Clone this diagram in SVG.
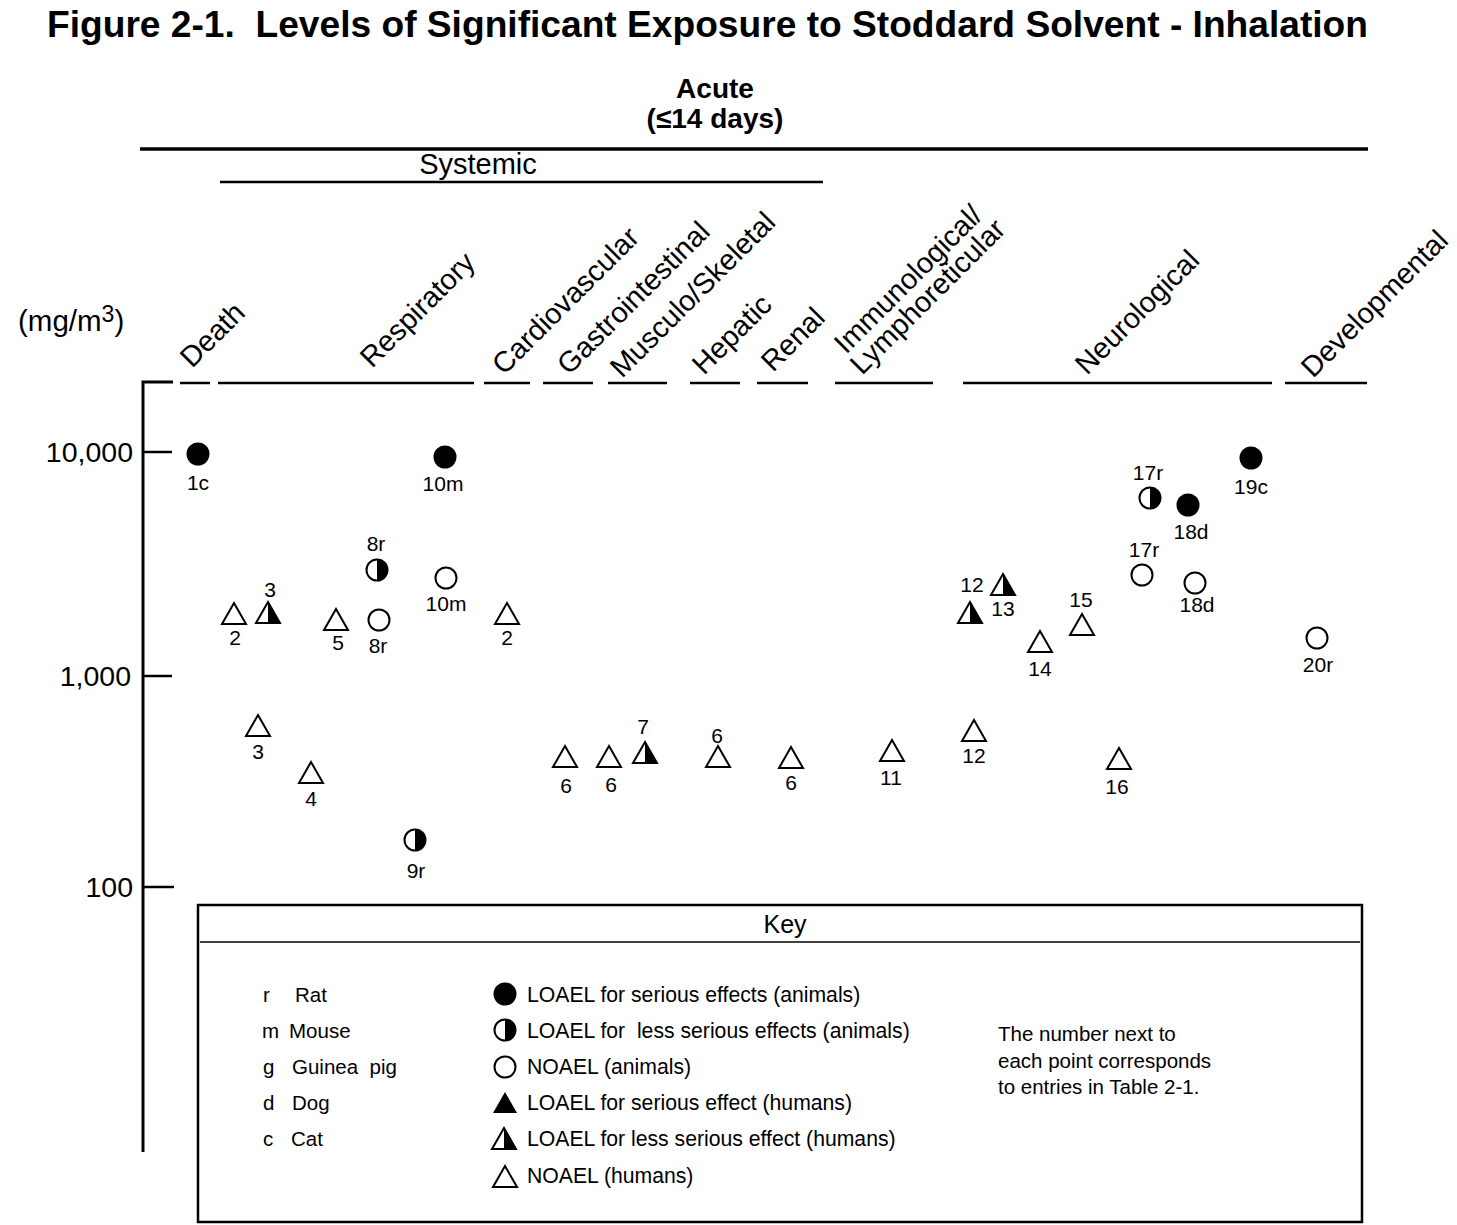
<svg xmlns="http://www.w3.org/2000/svg" xmlns:xlink="http://www.w3.org/1999/xlink" width="1457" height="1225" viewBox="0 0 1457 1225">
<style>
text{font-family:"Liberation Sans",Arial,sans-serif;fill:#000}
.title{font-size:37px;font-weight:bold}
.hdr{font-size:28px;font-weight:bold}
.sys{font-size:29px}
.cat{font-size:29px}
.tick{font-size:28.5px;text-anchor:end}
.lbl{font-size:21px;text-anchor:middle}
.key{font-size:21.2px}
.keys{font-size:20.5px}
.ln{stroke:#000;fill:none}
</style>
<defs>
<g id="fc"><circle r="11.5" fill="#000"/></g>
<g id="hc"><circle r="10.5" fill="#fff" stroke="#000" stroke-width="2"/><path d="M0,-10.5 A10.5,10.5 0 0 1 0,10.5 Z" fill="#000"/></g>
<g id="oc"><circle r="10.5" fill="none" stroke="#000" stroke-width="2"/></g>
<g id="ft"><path d="M0,-11 L12,10 L-12,10 Z" fill="#000"/></g>
<g id="ht"><path d="M0,-11 L12,10 L-12,10 Z" fill="#fff" stroke="#000" stroke-width="2"/><path d="M0,-11 L12,10 L0,10 Z" fill="#000"/></g>
<g id="ot"><path d="M0,-11 L12,10 L-12,10 Z" fill="none" stroke="#000" stroke-width="2"/></g>
</defs>
<rect width="1457" height="1225" fill="#fff"/>

<g id="header">
<text class="title" x="47" y="37" textLength="1321" lengthAdjust="spacingAndGlyphs" xml:space="preserve">Figure 2-1.  Levels of Significant Exposure to Stoddard Solvent - Inhalation</text>
<text class="hdr" x="715" y="98" text-anchor="middle">Acute</text>
<text class="hdr" x="715" y="128" text-anchor="middle">(≤14 days)</text>
<line class="ln" x1="140" y1="149" x2="1368" y2="149" stroke-width="3.5"/>
<text class="sys" x="478" y="174" text-anchor="middle">Systemic</text>
<line class="ln" x1="220" y1="182" x2="823" y2="182" stroke-width="2.5"/>
</g>

<g id="categories">
<text class="cat" transform="translate(192,369) rotate(-45)">Death</text>
<text class="cat" transform="translate(372,369) rotate(-45)">Respiratory</text>
<text class="cat" transform="translate(504,376) rotate(-45)">Cardiovascular</text>
<text class="cat" transform="translate(569,376) rotate(-45)">Gastrointestinal</text>
<text class="cat" transform="translate(622,379) rotate(-45)">Musculo/Skeletal</text>
<text class="cat" transform="translate(704,376) rotate(-45)">Hepatic</text>
<text class="cat" transform="translate(773,373) rotate(-45)">Renal</text>
<text class="cat" transform="translate(846,355) rotate(-45)">Immunological/</text>
<text class="cat" transform="translate(862,376) rotate(-45)">Lymphoreticular</text>
<text class="cat" transform="translate(1087,376) rotate(-45)">Neurological</text>
<text class="cat" transform="translate(1313,379) rotate(-45)">Developmental</text>
<g class="ln" stroke-width="2.5">
<line x1="180" y1="383" x2="210" y2="383"/>
<line x1="218" y1="383" x2="474" y2="383"/>
<line x1="484" y1="383" x2="530" y2="383"/>
<line x1="543" y1="383" x2="593" y2="383"/>
<line x1="608" y1="383" x2="667" y2="383"/>
<line x1="690" y1="383" x2="740" y2="383"/>
<line x1="757" y1="383" x2="808" y2="383"/>
<line x1="835" y1="383" x2="933" y2="383"/>
<line x1="963" y1="383" x2="1272" y2="383"/>
<line x1="1285" y1="383" x2="1367" y2="383"/>
</g>
</g>

<g id="axis">
<text x="18" y="331" font-size="29.5">(mg/m<tspan font-size="23" dy="-9">3</tspan><tspan dy="9">)</tspan></text>
<path class="ln" d="M173,382 H143 V1152" stroke-width="3"/>
<g class="ln" stroke-width="2.5">
<line x1="143" y1="452" x2="172" y2="452"/>
<line x1="143" y1="676" x2="172" y2="676"/>
<line x1="143" y1="887" x2="174" y2="887"/>
</g>
<text class="tick" x="133" y="462">10,000</text>
<text class="tick" x="131" y="686">1,000</text>
<text class="tick" x="133" y="897">100</text>
</g>

<g id="points">
<g id="p1c"><use xlink:href="#fc" x="198" y="454"/><text class="lbl" x="198" y="490">1c</text></g>
<g id="p10m-a"><use xlink:href="#fc" x="445" y="457"/><text class="lbl" x="443" y="491">10m</text></g>
<g id="p8r-a"><use xlink:href="#hc" x="377" y="570"/><text class="lbl" x="376" y="551">8r</text></g>
<g id="p3-a"><use xlink:href="#ht" x="268" y="613"/><text class="lbl" x="270" y="597">3</text></g>
<g id="p2-a"><use xlink:href="#ot" x="234" y="614"/><text class="lbl" x="235" y="645">2</text></g>
<g id="p5"><use xlink:href="#ot" x="336" y="620"/><text class="lbl" x="338" y="650">5</text></g>
<g id="p8r-b"><use xlink:href="#oc" x="379" y="620"/><text class="lbl" x="378" y="653">8r</text></g>
<g id="p10m-b"><use xlink:href="#oc" x="446" y="578"/><text class="lbl" x="446" y="611">10m</text></g>
<g id="p2-b"><use xlink:href="#ot" x="507" y="614"/><text class="lbl" x="507" y="645">2</text></g>
<g id="p3-b"><use xlink:href="#ot" x="258" y="726"/><text class="lbl" x="258" y="759">3</text></g>
<g id="p4"><use xlink:href="#ot" x="311" y="773"/><text class="lbl" x="311" y="806">4</text></g>
<g id="p9r"><use xlink:href="#hc" x="415" y="840"/><text class="lbl" x="416" y="878">9r</text></g>
<g id="p6-a"><use xlink:href="#ot" x="565" y="757"/><text class="lbl" x="566" y="793">6</text></g>
<g id="p6-b"><use xlink:href="#ot" x="609" y="757"/><text class="lbl" x="611" y="792">6</text></g>
<g id="p7"><use xlink:href="#ht" x="645" y="753"/><text class="lbl" x="643" y="734">7</text></g>
<g id="p6-c"><use xlink:href="#ot" x="718" y="757"/><text class="lbl" x="717" y="743">6</text></g>
<g id="p6-d"><use xlink:href="#ot" x="791" y="758"/><text class="lbl" x="791" y="790">6</text></g>
<g id="p11"><use xlink:href="#ot" x="892" y="751"/><text class="lbl" x="891" y="785">11</text></g>
<g id="p12-a"><use xlink:href="#ot" x="974" y="731"/><text class="lbl" x="974" y="763">12</text></g>
<g id="p12-b"><use xlink:href="#ht" x="970" y="613"/><text class="lbl" x="972" y="592">12</text></g>
<g id="p13"><use xlink:href="#ht" x="1003" y="585"/><text class="lbl" x="1003" y="616">13</text></g>
<g id="p14"><use xlink:href="#ot" x="1040" y="642"/><text class="lbl" x="1040" y="676">14</text></g>
<g id="p15"><use xlink:href="#ot" x="1082" y="625"/><text class="lbl" x="1081" y="607">15</text></g>
<g id="p16"><use xlink:href="#ot" x="1119" y="759"/><text class="lbl" x="1117" y="794">16</text></g>
<g id="p17r-a"><use xlink:href="#hc" x="1150" y="498"/><text class="lbl" x="1148" y="480">17r</text></g>
<g id="p17r-b"><use xlink:href="#oc" x="1142" y="575"/><text class="lbl" x="1144" y="557">17r</text></g>
<g id="p18d-a"><use xlink:href="#fc" x="1188" y="505"/><text class="lbl" x="1191" y="539">18d</text></g>
<g id="p18d-b"><use xlink:href="#oc" x="1195" y="583"/><text class="lbl" x="1197" y="612">18d</text></g>
<g id="p19c"><use xlink:href="#fc" x="1251" y="458"/><text class="lbl" x="1251" y="494">19c</text></g>
<g id="p20r"><use xlink:href="#oc" x="1317" y="638"/><text class="lbl" x="1318" y="672">20r</text></g>
</g>

<g id="keybox">
<rect x="198" y="905" width="1164" height="317" fill="none" stroke="#000" stroke-width="2.5"/>
<line class="ln" x1="200" y1="942" x2="1360" y2="942" stroke-width="1.5"/>
<text x="785" y="933" font-size="25" text-anchor="middle">Key</text>
<g>
<text class="keys" x="263" y="1002">r</text><text class="keys" x="295" y="1002">Rat</text>
<text class="keys" x="262" y="1038">m</text><text class="keys" x="289" y="1038">Mouse</text>
<text class="keys" x="263" y="1074">g</text><text class="keys" x="292" y="1074" xml:space="preserve">Guinea  pig</text>
<text class="keys" x="263" y="1110">d</text><text class="keys" x="292" y="1110">Dog</text>
<text class="keys" x="263" y="1146">c</text><text class="keys" x="291" y="1146">Cat</text>
</g>
<use xlink:href="#fc" x="505" y="994"/>
<use xlink:href="#hc" x="505" y="1030"/>
<use xlink:href="#oc" x="505" y="1067"/>
<use xlink:href="#ft" x="505" y="1103"/>
<use xlink:href="#ht" x="504" y="1139"/>
<use xlink:href="#ot" x="505" y="1177"/>
<text class="key" x="527" y="1002">LOAEL for serious effects (animals)</text>
<text class="key" x="527" y="1038" xml:space="preserve">LOAEL for  less serious effects (animals)</text>
<text class="key" x="527" y="1074">NOAEL (animals)</text>
<text class="key" x="527" y="1110">LOAEL for serious effect (humans)</text>
<text class="key" x="527" y="1146">LOAEL for less serious effect (humans)</text>
<text class="key" x="527" y="1183">NOAEL (humans)</text>
<text class="keys" x="998" y="1041">The number next to</text>
<text class="keys" x="998" y="1068">each point corresponds</text>
<text class="keys" x="998" y="1094">to entries in Table 2-1.</text>
</g>
</svg>
